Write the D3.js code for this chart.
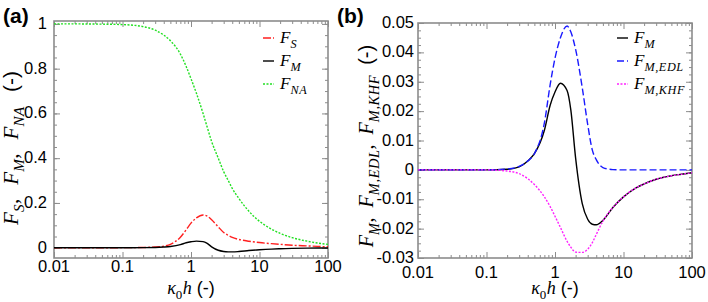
<!DOCTYPE html>
<html>
<head>
<meta charset="utf-8">
<script src="https://cdn.jsdelivr.net/npm/d3@7"></script>
<style>
  body { margin: 0; background: #fff; }
  svg { display: block; }
</style>
</head>
<body>
<svg id="chart" width="708" height="302"></svg>
<script>
// kappa0*h values shared by all curves
const xs = [0.01, 0.02, 0.05, 0.1, 0.2, 0.3, 0.4, 0.5, 0.7, 0.85, 1, 1.2, 1.5, 1.7, 2, 2.5, 3, 3.5, 4, 5, 7, 10, 15, 20, 30, 50, 70, 100]

// panel (a)
const fS = [0, 0, 0, 0.0002, 0.001, 0.003, 0.007, 0.015, 0.047, 0.08, 0.11, 0.133, 0.146, 0.142, 0.125, 0.093, 0.068, 0.055, 0.046, 0.037, 0.029, 0.023, 0.018, 0.015, 0.011, 0.008, 0.006, 0.004]
const fM = [0, 0, 0, 0, 0.0002, 0.001, 0.003, 0.0055, 0.0135, 0.022, 0.0265, 0.0295, 0.027, 0.0205, 0.004, -0.0115, -0.0168, -0.0185, -0.0187, -0.0172, -0.0128, -0.0092, -0.0062, -0.0048, -0.0032, -0.002, -0.0015, -0.001]
const fNA = [1, 1, 0.999, 0.997, 0.988, 0.972, 0.95, 0.925, 0.865, 0.81, 0.755, 0.69, 0.6, 0.545, 0.475, 0.4, 0.34, 0.3, 0.265, 0.22, 0.163, 0.118, 0.083, 0.064, 0.045, 0.029, 0.021, 0.015]

// panel (b)
const fEDL = [0, 0, 0, 0, 0.0003, 0.0012, 0.003, 0.0055, 0.016, 0.029, 0.038, 0.045, 0.049, 0.047, 0.041, 0.028, 0.0155, 0.0068, 0.0035, 0.0008, 0.0001, 0, 0, 0, 0, 0, 0, 0]
const fKHF = [0, 0, 0, 0, -0.0004, -0.0013, -0.003, -0.005, -0.0092, -0.0125, -0.0158, -0.0196, -0.0243, -0.0263, -0.028, -0.0281, -0.027, -0.0248, -0.022, -0.0175, -0.0128, -0.0092, -0.0062, -0.0048, -0.0032, -0.002, -0.0015, -0.001]

const xTicks = [0.01, 0.1, 1, 10, 100]
const xTickLabels = ['0.01', '0.1', '1', '10', '100']
const yTicksA = [0, 0.2, 0.4, 0.6, 0.8, 1]
const yTickLabelsA = ['0', '0.2', '0.4', '0.6', '0.8', '1']
const yTicksB = [-0.03, -0.02, -0.01, 0, 0.01, 0.02, 0.03, 0.04, 0.05]
const yTickLabelsB = ['-0.03', '-0.02', '-0.01', '0', '0.01', '0.02', '0.03', '0.04', '0.05']

const svg = d3.select('#chart')
const sans = 'Liberation Sans, Arial, sans-serif'
const serif = 'Liberation Serif, Times New Roman, serif'
const frameColor = '#8c8c8c'

// writes a math-ish label: parts are [text, kind, dx]
const mathText = (sel, parts, size) => {
  let shifted = 0
  parts.forEach(([t, kind, dx]) => {
    const ts = sel.append('tspan').text(t)
    let dy = 0
    if (kind === 'sub' || kind === 'subr') {
      ts.attr('font-family', serif).attr('font-size', size * 0.72)
        .attr('letter-spacing', 0.6)
      if (kind === 'sub') ts.attr('font-style', 'italic')
      if (!shifted) { dy = size * 0.3; shifted = 1 }
    } else {
      if (shifted) { dy = -size * 0.3; shifted = 0 }
      if (kind === 'i') ts.attr('font-family', serif).attr('font-style', 'italic')
      if (kind === 'r') ts.attr('font-family', serif)
      if (kind === 'sans') ts.attr('font-family', sans)
    }
    if (dy) ts.attr('dy', dy)
    if (dx) ts.attr('dx', dx)
  })
}

const minorLog = []
for (let e = -2; e < 2; e++) for (let k = 2; k < 10; k++) minorLog.push(k * Math.pow(10, e))

const drawPanel = p => {
  const g = svg.append('g')
  const x = d3.scaleLog().domain([0.01, 100]).range([p.left, p.right])
  const y = d3.scaleLinear().domain(p.yDomain).range([258, p.top])
  const w = p.right - p.left

  // minor & major ticks on all four sides, pointing inward
  const tk = (axis, tr) => g.append('g').attr('transform', tr).call(axis)
    .call(s => s.select('.domain').remove())
    .call(s => s.selectAll('line').attr('stroke', frameColor).attr('stroke-width', 1))
  const yMinor = d3.range(p.yDomain[0] < 0 ? Math.ceil(p.yDomain[0] / p.yMinorStep) : 0,
    Math.floor(p.yDomain[1] / p.yMinorStep + 1e-6) + 1).map(i => +(i * p.yMinorStep).toFixed(6))

  tk(d3.axisBottom(x).tickValues(minorLog).tickSize(-3).tickFormat(''), `translate(0,258)`)
  tk(d3.axisTop(x).tickValues(minorLog).tickSize(-3).tickFormat(''), `translate(0,${p.top})`)
  tk(d3.axisBottom(x).tickValues(xTicks).tickSize(-6).tickFormat(''), `translate(0,258)`)
  tk(d3.axisTop(x).tickValues(xTicks).tickSize(-6).tickFormat(''), `translate(0,${p.top})`)
  tk(d3.axisLeft(y).tickValues(yMinor).tickSize(-3).tickFormat(''), `translate(${p.left},0)`)
  tk(d3.axisRight(y).tickValues(yMinor).tickSize(-3).tickFormat(''), `translate(${p.right},0)`)
  tk(d3.axisLeft(y).tickValues(p.yTicks).tickSize(-6).tickFormat(''), `translate(${p.left},0)`)
  tk(d3.axisRight(y).tickValues(p.yTicks).tickSize(-6).tickFormat(''), `translate(${p.right},0)`)

  g.append('rect')
    .attr('x', p.left).attr('y', p.top)
    .attr('width', w).attr('height', 258 - p.top)
    .attr('fill', 'none').attr('stroke', frameColor).attr('stroke-width', 1.6)

  // tick labels
  g.selectAll('.xl').data(xTicks).enter().append('text')
    .attr('x', d => x(d)).attr('y', p.xLabelY)
    .attr('text-anchor', 'middle')
    .style('font-family', sans).style('font-size', '16.5px')
    .text((d, i) => xTickLabels[i])
  g.selectAll('.yl').data(p.yTicks).enter().append('text')
    .attr('x', p.left - p.labelGap).attr('y', d => y(d) + 5)
    .attr('text-anchor', 'end')
    .style('font-family', sans).style('font-size', '16.5px')
    .text((d, i) => p.yLabels[i])

  // curves
  const line = vals => d3.line()
    .x((d, i) => x(xs[i]))
    .y(d => y(d))
    .curve(d3.curveMonotoneX)(vals)
  p.series.forEach(s => {
    g.append('path')
      .attr('d', line(s.values))
      .attr('fill', 'none')
      .attr('stroke', s.color)
      .attr('stroke-width', 1.4)
      .attr('stroke-dasharray', s.dash)
  })

  // legend
  p.series.forEach((s, i) => {
    const ly = p.legendY + i * 23
    g.append('line')
      .attr('x1', p.legendX).attr('x2', p.legendX + p.sampleLen)
      .attr('y1', ly).attr('y2', ly)
      .attr('stroke', s.color).attr('stroke-width', 1.4)
      .attr('stroke-dasharray', s.dash)
    const t = g.append('text')
      .attr('x', p.legendX + p.sampleLen + 6).attr('y', ly + 5)
      .style('font-size', '17px')
    mathText(t, s.label, 17)
  })

  // axis titles
  const xt = g.append('text')
    .attr('x', (p.left + p.right) / 2).attr('y', 294)
    .attr('text-anchor', 'middle')
    .style('font-size', '18px')
  mathText(xt, [['κ', 'i'], ['0', 'subr'], ['h', 'i'], [' (-)', 'sans']], 18)

  const yt = g.append('text')
    .attr('transform', `translate(${p.yTitleX},${p.yTitleY}) rotate(-90)`)
    .attr('text-anchor', 'middle')
    .style('font-size', p.yTitleSize + 'px')
  mathText(yt, p.yTitle, p.yTitleSize)

  g.append('text')
    .attr('x', p.tagX).attr('y', 23)
    .style('font-family', sans).style('font-weight', 'bold').style('font-size', '21px')
    .text(p.tag)
}

drawPanel({
  left: 54, right: 328, top: 21,
  yDomain: [-0.046, 1.013], yTicks: yTicksA, yLabels: yTickLabelsA, yMinorStep: 0.05,
  labelGap: 7, xLabelY: 272,
  series: [
    { values: fS, color: '#ff2020', dash: '8,2,2,2', label: [['F', 'i'], ['S', 'sub']] },
    { values: fM, color: '#000000', dash: null, label: [['F', 'i'], ['M', 'sub']] },
    { values: fNA, color: '#22e022', dash: '2,1.5', label: [['F', 'i'], ['NA', 'sub']] }
  ],
  legendX: 263, sampleLen: 11, legendY: 38,
  yTitleX: 18, yTitleY: 148, yTitleSize: 21,
  yTitle: [['F', 'i'], ['S', 'sub'], [',', 'r'], ['F', 'i', 14], ['M', 'sub'], [',', 'r'], ['F', 'i', 14], ['NA', 'sub'], ['(-)', 'sans', 14]],
  tag: '(a)', tagX: 3
})

drawPanel({
  left: 418, right: 692, top: 23,
  yDomain: [-0.03, 0.05], yTicks: yTicksB, yLabels: yTickLabelsB, yMinorStep: 0.0025,
  labelGap: 4, xLabelY: 277.5,
  series: [
    { values: fM, color: '#000000', dash: null, label: [['F', 'i'], ['M', 'sub']] },
    { values: fEDL, color: '#1a1aff', dash: '7,3', label: [['F', 'i'], ['M,EDL', 'sub']] },
    { values: fKHF, color: '#ff22ff', dash: '2,1.5', label: [['F', 'i'], ['M,KHF', 'sub']] }
  ],
  legendX: 617, sampleLen: 11, legendY: 38,
  yTitleX: 373, yTitleY: 146, yTitleSize: 20,
  yTitle: [['F', 'i'], ['M', 'sub'], [',', 'r'], ['F', 'i', 10], ['M,EDL', 'sub'], [',', 'r'], ['F', 'i', 10], ['M,KHF', 'sub'], ['(-)', 'sans', 10]],
  tag: '(b)', tagX: 337
})
</script>
</body>
</html>
